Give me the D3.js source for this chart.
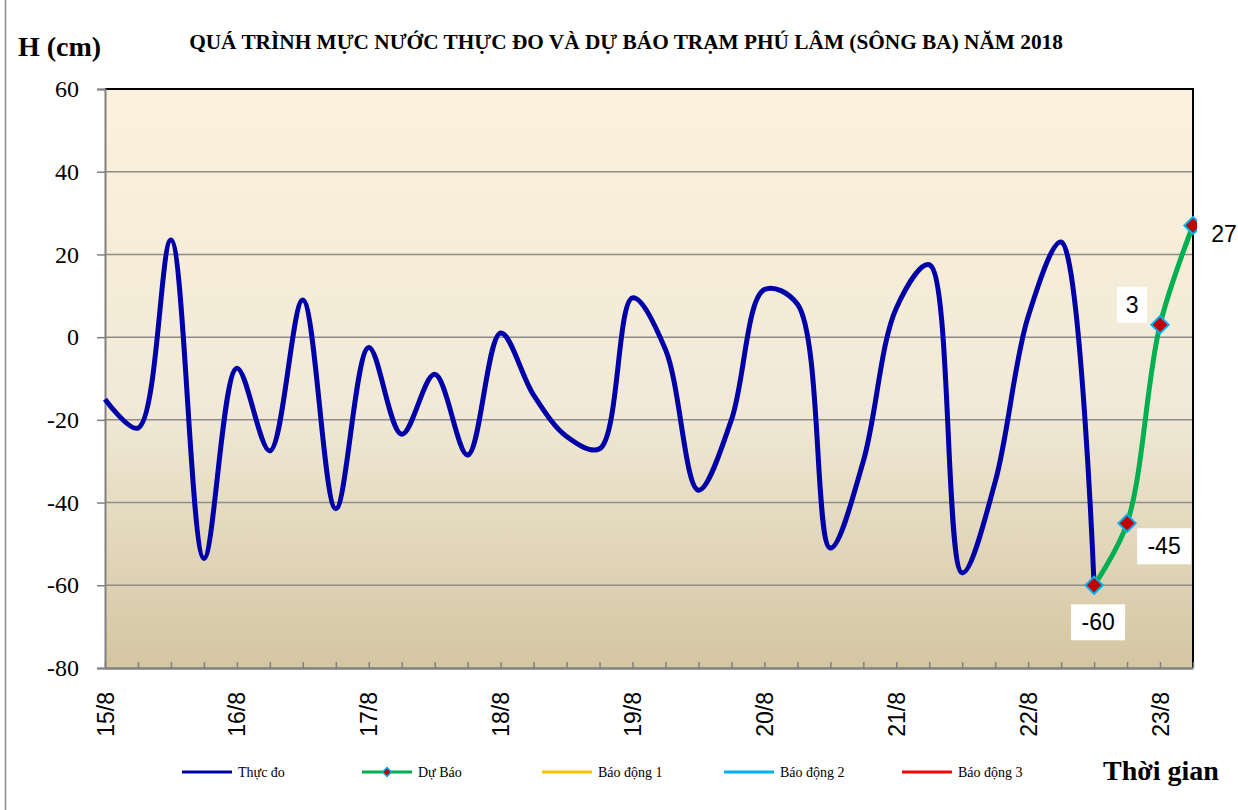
<!DOCTYPE html>
<html>
<head>
<meta charset="utf-8">
<script src="https://cdn.jsdelivr.net/npm/d3@7"></script>
<style>
  body { margin: 0; background: #fff; }
  svg { display: block; }
</style>
</head>
<body>
<div id="chart"></div>
<script>
// time slots, 4 per day (6h); only the first of each day is labelled
const categories = [
  '15/8', '', '', '', '16/8', '', '', '', '17/8', '', '', '', '18/8', '', '', '',
  '19/8', '', '', '', '20/8', '', '', '', '21/8', '', '', '', '22/8', '', '', '',
  '23/8', ''
];
// observed water level (cm), slots 0..30
const observed = [-15, -22, 23.5, -53.5, -7.5, -27.5, 9, -41.5, -2.5, -23.5, -9, -28.5,
  1, -14, -24, -27, 9.5, -3, -37, -20, 11.5, 8, -51, -30, 7, 17.5, -57, -35, 5, 23, -60];
// forecast, slots 30..33
const forecastStart = 30;
const forecast = [-60, -45, 3, 27];
const yTicks = [60, 40, 20, 0, -20, -40, -60, -80];
const legendItems = ['Thực đo', 'Dự Báo', 'Báo động 1', 'Báo động 2', 'Báo động 3'];
const legendColors = ['#0000a8', '#00b050', '#ffc000', '#00b0f0', '#ff0000'];

const width = 1238, height = 810;
const plot = { left: 105, right: 1193, top: 89, bottom: 668 };

const svg = d3.select('#chart').append('svg')
  .attr('width', width)
  .attr('height', height);

// chart area frame (left edge)
svg.append('line')
  .attr('x1', 5.5).attr('x2', 5.5).attr('y1', 0).attr('y2', height)
  .attr('stroke', '#8c8c8c').attr('stroke-width', 1.5);

const x = d3.scalePoint()
  .domain(d3.range(categories.length))
  .range([plot.left, plot.right]);

const y = d3.scaleLinear()
  .domain([-80, 60])
  .range([plot.bottom, plot.top]);

// background gradient
const grad = svg.append('defs').append('linearGradient')
  .attr('id', 'bg').attr('x1', 0).attr('x2', 0).attr('y1', 0).attr('y2', 1);
grad.append('stop').attr('offset', '0%').attr('stop-color', '#fcf1dc');
grad.append('stop').attr('offset', '55%').attr('stop-color', '#f1e9d6');
grad.append('stop').attr('offset', '100%').attr('stop-color', '#d4c6a2');

svg.append('rect')
  .attr('x', plot.left).attr('y', plot.top)
  .attr('width', plot.right - plot.left).attr('height', plot.bottom - plot.top)
  .attr('fill', 'url(#bg)');

// gridlines
svg.append('g')
  .selectAll('line')
  .data(yTicks.filter(d => d > -80 && d < 60))
  .join('line')
  .attr('x1', plot.left).attr('x2', plot.right)
  .attr('y1', d => y(d)).attr('y2', d => y(d))
  .attr('stroke', '#8c8c8c').attr('stroke-width', 1.5);

// top and right border
svg.append('path')
  .attr('d', `M${plot.left},${plot.top}H${plot.right}V${plot.bottom}`)
  .attr('fill', 'none').attr('stroke', '#000').attr('stroke-width', 2);

// y axis
const yAxis = svg.append('g')
  .attr('transform', `translate(${plot.left},0)`)
  .call(d3.axisLeft(y).tickValues(yTicks).tickSize(8).tickPadding(18).tickFormat(d3.format('d')));
yAxis.select('.domain').attr('stroke', '#808080').attr('stroke-width', 2);
yAxis.selectAll('.tick line').attr('stroke', '#808080').attr('stroke-width', 1.5);
yAxis.selectAll('.tick text')
  .attr('font-family', '"Liberation Serif", "Times New Roman", serif')
  .attr('font-size', 24).attr('fill', '#000').text(d => d < 0 ? '-' + Math.abs(d) : d);

// x axis, ticks inside
const xAxis = svg.append('g')
  .attr('transform', `translate(0,${plot.bottom})`)
  .call(d3.axisBottom(x).tickSizeInner(-6).tickSizeOuter(0).tickFormat(i => categories[i]));
xAxis.select('.domain').attr('stroke', '#808080').attr('stroke-width', 2.5);
xAxis.selectAll('.tick line').attr('stroke', '#808080').attr('stroke-width', 1.5);
xAxis.selectAll('.tick text')
  .attr('font-family', '"Liberation Sans", Arial, sans-serif')
  .attr('font-size', 23).attr('fill', '#000')
  .attr('text-anchor', 'end')
  .attr('transform', 'rotate(-90)')
  .attr('x', -24).attr('y', 0).attr('dy', '0.35em');

const line = d3.line()
  .x(d => x(d.i))
  .y(d => y(d.v))
  .curve(d3.curveCatmullRom.alpha(0.5));

const obsData = observed.map((v, i) => ({ i, v }));
const fcData = forecast.map((v, k) => ({ i: forecastStart + k, v }));

svg.append('path')
  .datum(obsData)
  .attr('d', line)
  .attr('fill', 'none')
  .attr('stroke', legendColors[0])
  .attr('stroke-width', 5)
  .attr('stroke-linejoin', 'round');

svg.append('path')
  .datum(fcData)
  .attr('d', line)
  .attr('fill', 'none')
  .attr('stroke', legendColors[1])
  .attr('stroke-width', 5);

svg.append('g')
  .selectAll('path')
  .data(fcData)
  .join('path')
  .attr('transform', d => `translate(${x(d.i)},${y(d.v)}) rotate(45)`)
  .attr('d', d3.symbol().type(d3.symbolSquare).size(150))
  .attr('fill', '#c00000')
  .attr('stroke', '#00b0f0')
  .attr('stroke-width', 2);

// data labels (offset from each point)
const labelOffsets = [[4, 37], [37, 23], [-28, -20], [31, 8]];
const labels = svg.append('g')
  .selectAll('g')
  .data(fcData)
  .join('g')
  .attr('transform', (d, k) => `translate(${x(d.i) + labelOffsets[k][0]},${y(d.v) + labelOffsets[k][1]})`);
labels.append('rect')
  .attr('x', (d, k) => k === 2 ? -15 : -27)
  .attr('y', -18)
  .attr('width', (d, k) => k === 2 ? 30 : 54)
  .attr('height', 36)
  .attr('fill', '#fff');
labels.append('text')
  .attr('text-anchor', 'middle')
  .attr('dy', '0.35em')
  .attr('font-family', '"Liberation Sans", Arial, sans-serif')
  .attr('font-size', 23)
  .text(d => d.v < 0 ? '-' + Math.abs(d.v) : d.v);

// titles
svg.append('text')
  .attr('x', 626).attr('y', 49)
  .attr('text-anchor', 'middle')
  .attr('font-family', '"Liberation Serif", "Times New Roman", serif')
  .attr('font-weight', 'bold').attr('font-size', 21.3)
  .text('QUÁ TRÌNH MỰC NƯỚC THỰC ĐO VÀ DỰ BÁO TRẠM PHÚ LÂM (SÔNG BA) NĂM 2018');

svg.append('text')
  .attr('x', 18).attr('y', 56)
  .attr('font-family', '"Liberation Serif", "Times New Roman", serif')
  .attr('font-weight', 'bold').attr('font-size', 28)
  .text('H (cm)');

svg.append('text')
  .attr('x', 1103).attr('y', 780)
  .attr('font-family', '"Liberation Serif", "Times New Roman", serif')
  .attr('font-weight', 'bold').attr('font-size', 28)
  .text('Thời gian');

// legend
const legendX = [182, 362, 542, 724, 902];
const legend = svg.append('g')
  .selectAll('g')
  .data(legendItems)
  .join('g')
  .attr('transform', (d, i) => `translate(${legendX[i]},772)`);
legend.append('line')
  .attr('x1', 0).attr('x2', 50)
  .attr('stroke', (d, i) => legendColors[i])
  .attr('stroke-width', 3);
legend.filter((d, i) => i === 1)
  .append('path')
  .attr('transform', 'translate(25,0) rotate(45)')
  .attr('d', d3.symbol().type(d3.symbolSquare).size(40))
  .attr('fill', '#c00000').attr('stroke', '#00b0f0').attr('stroke-width', 1.5);
legend.append('text')
  .attr('x', 56).attr('dy', '0.35em')
  .attr('font-family', '"Liberation Serif", "Times New Roman", serif')
  .attr('font-size', 14)
  .text(d => d);
</script>
</body>
</html>
